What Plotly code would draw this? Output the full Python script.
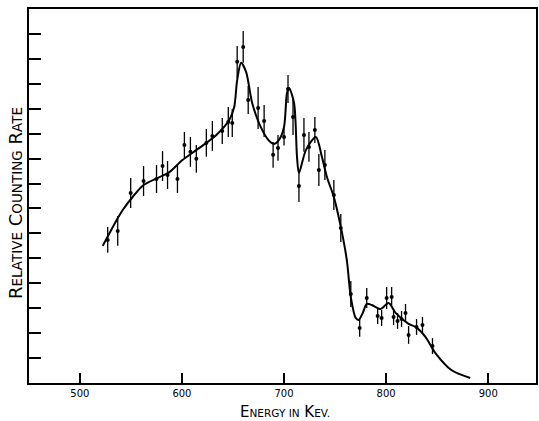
import plotly.graph_objects as go

# Measured data points (energy keV, relative counting rate, error)
energy = [527.3, 537.1, 549.8, 562.4, 575.1, 581.0, 585.9, 595.6, 602.4, 608.3,
          614.1, 623.9, 629.8, 639.5, 645.4, 649.3, 654.1, 660.0, 664.9, 674.6,
          680.5, 689.3, 694.1, 700.0, 703.9, 708.8, 714.6, 719.5, 724.4, 730.2,
          734.1, 740.0, 748.8, 755.6, 765.4, 774.1, 781.0, 791.7, 795.6, 800.5,
          805.4, 807.3, 811.2, 815.1, 819.0, 822.0, 829.8, 835.6, 845.4]
rate = [5.74, 6.10, 7.62, 8.10, 8.18, 8.70, 8.34, 8.18, 9.55, 9.27,
        8.99, 9.63, 9.91, 10.11, 10.47, 10.43, 12.88, 13.48, 11.35, 11.03,
        10.51, 9.15, 9.43, 9.87, 11.79, 10.67, 7.90, 9.95, 9.47, 10.15,
        8.54, 8.74, 7.54, 6.22, 3.57, 2.21, 3.41, 2.69, 2.61, 3.41,
        3.45, 2.65, 2.49, 2.57, 2.81, 1.93, 2.25, 2.33, 1.48]
err = [0.52, 0.60, 0.60, 0.60, 0.56, 0.60, 0.56, 0.56, 0.52, 0.60,
       0.56, 0.56, 0.60, 0.52, 0.60, 0.56, 0.64, 0.64, 0.56, 0.84,
       0.64, 0.52, 0.52, 0.34, 0.56, 0.72, 0.64, 0.68, 0.60, 0.52,
       0.64, 0.60, 0.60, 0.56, 0.52, 0.36, 0.40, 0.32, 0.32, 0.44,
       0.40, 0.32, 0.32, 0.32, 0.36, 0.36, 0.32, 0.32, 0.32]

# Smooth fitted curve
curve_x = [522.4, 536.1, 542.0, 551.7, 562.4, 578.0, 587.8, 600.5, 617.1, 633.7,
           646.3, 651.2, 654.1, 658.0, 662.9, 668.8, 677.6, 685.4, 690.2, 695.1,
           700.0, 702.9, 704.9, 709.8, 712.7, 714.6, 721.5, 731.2, 737.1, 742.0,
           748.8, 755.6, 761.5, 765.4, 770.2, 773.2, 777.1, 781.0, 785.9, 794.6,
           802.4, 809.3, 822.0, 828.8, 838.5, 848.3, 863.9, 882.4]
curve_y = [5.50, 6.54, 6.94, 7.46, 7.94, 8.26, 8.46, 8.94, 9.43, 9.95,
           10.55, 11.07, 12.15, 12.84, 12.47, 11.23, 10.23, 9.71, 9.59, 9.75,
           10.27, 11.63, 11.83, 11.23, 9.07, 8.42, 9.35, 9.87, 9.07, 8.26,
           7.46, 6.26, 4.93, 3.45, 2.61, 2.53, 2.81, 3.17, 3.13, 2.97,
           3.21, 2.81, 2.37, 2.25, 1.85, 1.20, 0.52, 0.20]

x_ticks = [500, 600, 700, 800, 900]
x_tick_labels = ["500", "600", "700", "800", "900"]
y_ticks = list(range(1, 15))

fig = go.Figure()
fig.add_trace(go.Scatter(
    x=curve_x, y=curve_y, mode="lines",
    line=dict(color="black", width=2, shape="spline", smoothing=0.8),
    hoverinfo="skip", showlegend=False))
fig.add_trace(go.Scatter(
    x=energy, y=rate, mode="markers",
    marker=dict(color="black", size=4),
    error_y=dict(type="data", array=err, color="black", thickness=1.3, width=0),
    showlegend=False))

ys = "font-size:13.5px"
ytitle = (f"R<span style='{ys}'>ELATIVE</span> C<span style='{ys}'>OUNTING</span> "
          f"R<span style='{ys}'>ATE</span>")
xs = "font-size:10.5px"
xtitle = (f"E<span style='{xs}'>NERGY IN</span> K<span style='{xs}'>EV.</span>")

L, R, T, B, W, H = 29, 1, 9, 38, 539, 421
pw, ph = W - L - R, H - T - B


def px_to_paper(px, py):
    return (px - L) / pw, (H - B - py) / ph


ytx, yty = px_to_paper(15, 203)
xtx, xty = px_to_paper(286, 412)

fig.update_layout(
    width=W, height=H,
    margin=dict(l=L, r=R, t=T, b=B),
    paper_bgcolor="white", plot_bgcolor="white",
    font=dict(family="DejaVu Sans", color="black"),
    xaxis=dict(range=[450.2, 946.8], tickvals=x_ticks, ticktext=x_tick_labels,
               ticks="inside", ticklen=10, tickwidth=2, tickcolor="black",
               showline=True, linecolor="black", linewidth=2, mirror=True,
               showgrid=False, zeroline=False,
               tickfont=dict(size=10, family="DejaVu Sans", color="black")),
    yaxis=dict(range=[0, 15], tickvals=y_ticks, showticklabels=False,
               ticks="inside", ticklen=12, tickwidth=1.5, tickcolor="black",
               showline=True, linecolor="black", linewidth=2, mirror=True,
               showgrid=False, zeroline=False),
    annotations=[
        dict(text=ytitle, x=ytx, y=yty, xref="paper", yref="paper",
             xanchor="center", yanchor="middle",
             showarrow=False, textangle=-90, font=dict(size=18, color="black")),
        dict(text=xtitle, x=xtx, y=xty, xref="paper", yref="paper",
             xanchor="center", yanchor="middle",
             showarrow=False, font=dict(size=15, color="black")),
    ],
)
fig.write_html("out.html",
               config={"displayModeBar": False},
               post_script="document.body.style.margin='0';"
                           "document.body.style.overflow='hidden';")
